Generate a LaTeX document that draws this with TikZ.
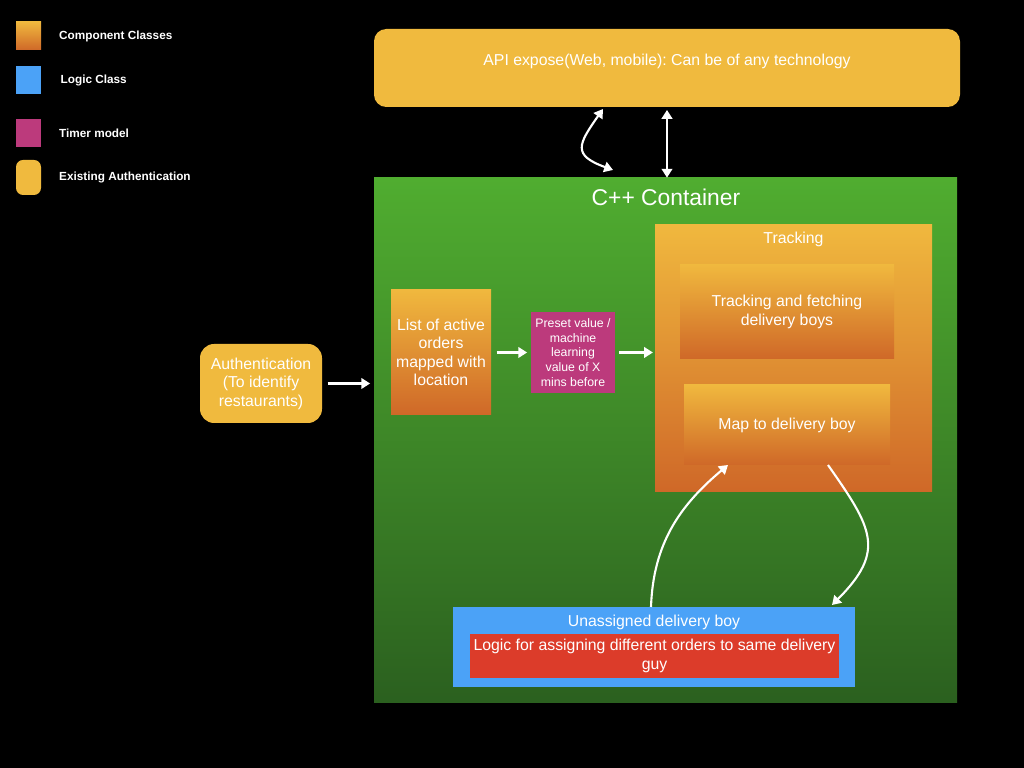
\documentclass[tikz,border=0pt]{standalone}
\usepackage{fontspec}
\setmainfont{Liberation Sans}
\frenchspacing
\usepackage{tikz}
\usetikzlibrary{arrows.meta, positioning, calc}
\definecolor{apiyellow}{RGB}{240,186,62}
\definecolor{comptop}{RGB}{240,184,62}
\definecolor{compbot}{RGB}{207,104,40}
\definecolor{conttop}{RGB}{80,173,48}
\definecolor{contbot}{RGB}{43,96,31}
\definecolor{logicblue}{RGB}{75,162,247}
\definecolor{timer}{RGB}{188,58,124}
\definecolor{logicred}{RGB}{220,60,42}

\begin{document}
\begin{tikzpicture}[
  comp/.style={rectangle, top color=comptop, bottom color=compbot, inner sep=2pt},
  txt/.style={text=white, font=\fontsize{9}{10.5}\selectfont, align=center},
  legendtxt/.style={text=white, font=\fontsize{6.7}{8}\selectfont\bfseries, anchor=west},
  link/.style={white, line width=1.2pt, -{Triangle[length=5pt, width=6pt]}},
  biglink/.style={white, line width=1.2pt, {Triangle[length=5pt, width=6pt]}-{Triangle[length=5pt, width=6pt]}}
]
  % Black page - drawn first
  \fill[black] (0,0) rectangle (20.48,15.36);

  % Legend
  \node[comp, minimum width=0.5cm, minimum height=0.56cm, inner sep=0] (legcomp) at (0.57,14.64) {};
  \node[rectangle, fill=logicblue, minimum width=0.5cm, minimum height=0.56cm, inner sep=0] (leglogic) at (0.57,13.76) {};
  \node[rectangle, fill=timer, minimum width=0.5cm, minimum height=0.56cm, inner sep=0] (legtimer) at (0.57,12.70) {};
  \node[rectangle, rounded corners=4pt, fill=apiyellow, minimum width=0.5cm, minimum height=0.7cm, inner sep=0] (legauth) at (0.57,11.81) {};
  \node[legendtxt] (legcomptxt) at (1.06,14.64) {Component Classes};
  \node[legendtxt] (leglogictxt) at (1.09,13.76) {Logic Class};
  \node[legendtxt] (legtimertxt) at (1.06,12.70) {Timer model};
  \node[legendtxt] (legauthtxt) at (1.06,11.82) {Existing Authentication};

  % API layer on top
  \node[rectangle, rounded corners=7pt, fill=apiyellow, minimum width=11.72cm, minimum height=1.56cm] (api) at (13.34,14.0) {};
  \node[txt] (apitxt) at (13.34,14.13) {API expose(Web, mobile): Can be of any technology};

  % C++ container
  \node[rectangle, top color=conttop, bottom color=contbot, minimum width=11.66cm, minimum height=10.5cm] (container) at (13.31,6.55) {};
  \node[text=white, font=\fontsize{13}{15}\selectfont] (conttitle) at (13.32,11.42) {C++ Container};

  % Tracking block
  \node[comp, minimum width=5.54cm, minimum height=5.34cm] (tracking) at (15.87,8.19) {};
  \node[txt] (tracktitle) at (15.87,10.58) {Tracking};
  \node[comp, txt, minimum width=4.28cm, minimum height=1.88cm] (fetch) at (15.74,9.12) {Tracking and fetching\\delivery boys};
  \node[comp, txt, minimum width=4.12cm, minimum height=1.6cm] (mapboy) at (15.74,6.86) {Map to delivery boy};

  % Orders and timer
  \node[comp, txt, minimum width=2cm, minimum height=2.5cm] (orders) at (8.82,8.31) {List of active\\orders\\mapped with\\location};
  \node[rectangle, fill=timer, text=white, font=\fontsize{7}{8.4}\selectfont, align=center, minimum width=1.68cm, minimum height=1.62cm, inner sep=1pt] (preset) at (11.46,8.31) {Preset value /\\machine\\learning\\value of X\\mins before};

  % Authentication outside
  \node[rectangle, rounded corners=8pt, fill=apiyellow, txt, minimum width=2.44cm, minimum height=1.58cm] (auth) at (5.22,7.69) {Authentication\\(To identify\\restaurants)};

  % Unassigned delivery boy
  \node[rectangle, fill=logicblue, minimum width=8.04cm, minimum height=1.6cm] (unassigned) at (13.08,2.42) {};
  \node[txt] (unasstitle) at (13.08,2.92) {Unassigned delivery boy};
  \node[rectangle, fill=logicred, txt, minimum width=7.38cm, minimum height=0.88cm, inner sep=1pt] (logic) at (13.09,2.24) {Logic for assigning different orders to same delivery\\guy};

  % Arrow ends
  \coordinate (apicurve) at (12.06,13.18);
  \coordinate (contcurve) at (12.26,11.96);
  \coordinate (unassout) at (13.02,3.22);
  \coordinate (mapin) at (14.56,6.06);
  \coordinate (mapout) at (16.56,6.06);
  \coordinate (unassin) at (16.64,3.26);

  % Arrows
  \draw[biglink] (apicurve) to[out=-125, in=160, looseness=1.8] (contcurve);
  \draw[biglink, shorten <=1.5pt] (api.south) -- (api.south |- container.north);
  \draw[link, shorten <=3pt, shorten >=2pt] (auth) -- (auth -| container.west);
  \draw[link, shorten <=3pt, shorten >=2pt] (orders) -- (preset);
  \draw[link, shorten <=2pt, shorten >=1pt] (preset.east) -- (preset.east -| tracking.west);
  \draw[link] (unassout) to[out=88, in=-140] (mapin);
  \draw[link] (mapout) to[out=-55, in=45, looseness=1.4] (unassin);
\end{tikzpicture}
\end{document}
